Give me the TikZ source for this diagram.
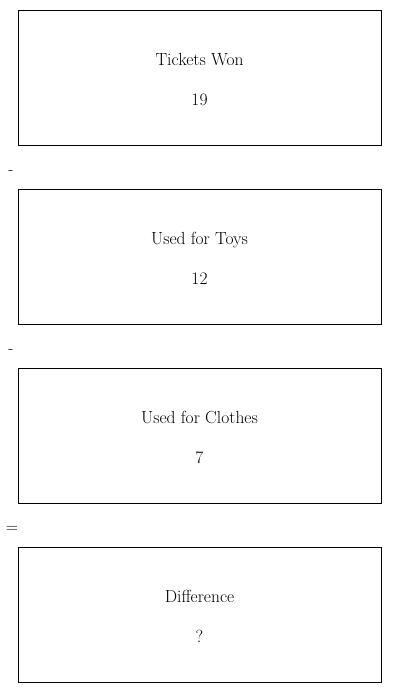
\documentclass[tikz,border=0pt]{standalone}
\usetikzlibrary{positioning,calc}

\begin{document}
\begin{tikzpicture}[x=1pt,y=1pt,
        box/.style={draw,rectangle,line width=0.9pt,minimum width=363pt,minimum height=135pt,outer sep=0pt,node distance=44pt},
        txt/.style={font=\fontsize{17.5}{21}\selectfont,anchor=base,inner sep=0pt},
        op/.style={font=\fontsize{17}{20}\selectfont,inner sep=0pt}]
   \useasboundingbox (0,0) rectangle (400,-693);
   \node[box] (A) at (199.5,-77.5) {};
   \node[box] (B) [below=of A] {};
   \node[box] (C) [below=of B] {};
   \node[box] (D) [below=of C] {};
   % texts
   \node[txt] (A1) at ([yshift=12pt]A.center) {Tickets Won};
   \node[txt] (A2) at ([yshift=-28pt]A.center) {19};
   \node[txt] (B1) at ([yshift=12pt]B.center) {Used for Toys};
   \node[txt] (B2) at ([yshift=-28pt]B.center) {12};
   \node[txt] (C1) at ([yshift=12pt]C.center) {Used for Clothes};
   \node[txt] (C2) at ([yshift=-28pt]C.center) {7};
   \node[txt] (D1) at ([yshift=12pt]D.center) {Difference};
   \node[txt] (D2) at ([yshift=-28pt]D.center) {?};
   % operators
   \node[op] (m1) at ($(A.south west)!0.5!(B.north west)+(-7,-5)$) {-};
   \node[op] (m2) at ($(B.south west)!0.5!(C.north west)+(-7,-5)$) {-};
   \node[op] (eq) at ($(C.south west)!0.5!(D.north west)+(-6,-4)$) {=};
\end{tikzpicture}
\end{document}
